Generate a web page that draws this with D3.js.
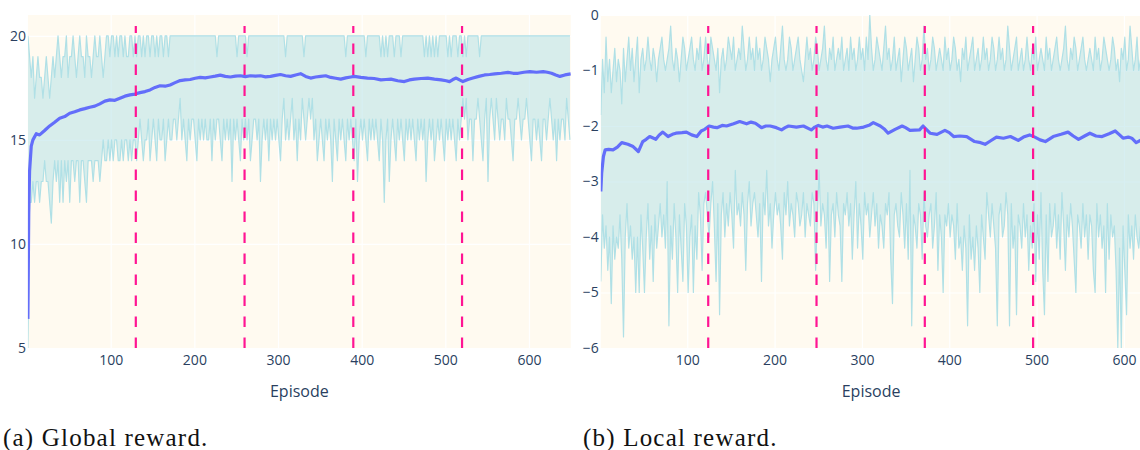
<!DOCTYPE html>
<html>
<head>
<meta charset="utf-8">
<script src="https://cdn.jsdelivr.net/npm/d3@7"></script>
<style>
body{margin:0;background:#fff}
svg text{font-family:"Open Sans",verdana,arial,sans-serif;fill:#2a3f5f}
svg text.caption{font-family:"Liberation Serif","DejaVu Serif",serif;fill:#111}
</style>
</head>
<body>
<div id="app"></div>
<script>
// band values are read every 2nd episode (1, 3, 5, ...)
var bandStep = 2;

var globalMax = [
20,19,18,19,17,18,19,18,
18,17,18,19,18,17,18,19,18,
19,20,19,18,19,19,20,18,19,19,20,19,18,19,20,19,19,18,20,19,19,18,19,20,19,19,20,19,18,19,20,
20,19,20,20,19,20,19,20,20,19,20,19,19,20,20,19,20,19,20,20,19,20,19,20,20,19,20,20,19,20,19,20,20,19,20,20,19,20,
20,20,20,20,20,20,20,20,20,20,20,20,20,20,20,20,20,20,20,20,
20,20,20,20,20,20,20,19,20,20,20,20,20,20,20,20,20,20,20,19,
20,20,20,20,20,19,20,20,20,20,20,20,20,20,20,20,20,20,20,20,
20,20,20,20,20,20,20,20,19,20,20,20,20,20,20,20,20,20,20,19,
20,20,20,20,20,20,20,20,20,20,20,20,20,20,20,20,20,20,20,20,
20,20,20,20,19,20,20,20,20,20,20,20,20,20,20,20,19,20,20,20,
20,20,20,20,20,19,20,19,20,19,20,20,20,19,20,20,20,19,20,20,
20,20,20,20,20,20,20,20,20,20,20,19,20,19,20,19,20,19,20,19,
20,20,20,20,20,19,20,19,20,20,20,19,20,20,19,20,19,20,20,20,
20,20,20,20,19,20,20,20,20,20,20,20,20,20,20,20,20,20,20,20,
20,20,20,20,20,20,20,20,20,20,20,20,20,20,20,20,20,20,20,20,
20,20,20,20,20,20,20,20,20,20,20,20,20,20,20,20,20,20,20
];

var globalMin = [
5,12,12,13,12,
13,13,12,13,13,
14,13,13,12,11,
13,14,13,14,12,14,
12,14,13,14,12,14,14,13,14,14,12,14,14,13,12,14,14,14,13,14,14,14,13,14,
15,14,14,15,14,15,14,15,15,14,14,15,14,15,15,14,15,14,15,
15,14,15,16,15,14,15,15,16,14,15,16,15,14,16,15,15,16,14,15,16,15,15,16,
16,15,16,17,15,16,15,14,16,15,16,16,15,14,16,15,16,15,16,15,
15,16,14,16,15,16,16,15,14,16,15,16,15,16,13,16,15,16,15,14,
16,15,16,15,16,14,15,16,16,15,16,13,15,16,15,16,14,16,15,16,
15,16,15,14,16,17,15,16,15,16,17,15,16,14,16,15,17,16,15,16,
17,16,17,15,16,14,15,16,15,14,16,15,16,15,13,16,15,14,16,15,
16,15,14,16,15,16,15,14,16,13,15,16,15,16,15,14,16,15,16,15,
16,15,14,16,15,12,15,16,13,15,16,15,14,16,15,16,15,14,16,15,
16,15,16,15,14,16,15,16,15,16,13,15,16,15,16,14,15,16,15,16,
15,14,16,15,16,15,16,15,14,16,15,16,17,16,17,15,16,16,14,16,
16,17,16,15,14,16,17,13,16,17,16,15,17,16,15,16,16,15,17,16,
16,15,14,16,16,17,16,15,16,16,17,16,15,14,16,16,15,16,15,14,
16,16,15,16,17,16,15,16,14,16,15,16,16,15,17,16,15
];

var globalMeanEpisodes = [1,2,3,5,7,11,15,21,27,33,39,45,51,57,63,69,75,81,87,93,99,105,111,117,123,129,135,141,147,153,159,165,171,177,183,189,195,201,207,213,219,225,231,237,243,249,255,261,267,273,279,285,291,297,303,309,315,321,327,333,339,345,351,357,363,369,375,381,387,391,399,407,415,423,429,435,443,451,457,463,471,479,487,495,501,505,509,513,517,521,527,533,540,547,553,559,567,575,581,587,594,601,609,617,622,627,632,637,643,650];
var globalMean = [6.4,11.5,13.5,14.7,15.0,15.3,15.24,15.45,15.67,15.85,16.04,16.12,16.28,16.35,16.44,16.5,16.57,16.62,16.73,16.86,16.92,16.9,17.0,17.1,17.16,17.2,17.27,17.32,17.4,17.52,17.6,17.58,17.64,17.75,17.85,17.88,17.9,17.96,18.0,17.98,18.02,18.06,18.11,18.05,18.02,18.06,18.08,18.04,18.08,18.06,18.08,18.03,18.05,18.1,18.14,18.08,18.05,18.12,18.18,18.05,17.97,18.02,18.05,18.08,18.0,17.96,17.92,17.98,18.02,18.05,18.0,17.97,17.95,17.88,17.9,17.92,17.84,17.8,17.88,17.92,17.95,17.97,17.92,17.88,17.84,17.8,17.9,17.97,17.88,17.8,17.9,17.97,18.05,18.12,18.14,18.17,18.2,18.24,18.2,18.2,18.25,18.28,18.25,18.28,18.25,18.2,18.12,18.05,18.12,18.17];

var localMax = [
-1.8,-0.8,-1.4,-0.4,-1.2,-0.8,-1.4,-1,-0.6,-1.2,-0.8,-1,-1.6,-0.6,-1.2,-0.8,-0.4,-1,-0.6,-1.2,
-0.8,-0.4,-1.4,-0.8,-0.6,-1,-0.8,-0.4,-0.8,-1,-0.6,-0.8,-1.2,-0.8,-0.6,-0.4,-0.8,-1,-0.8,-0.6,
-0.2,-0.8,-1,-0.6,-0.8,-1.2,-0.8,-0.4,-0.6,-1,-0.8,-0.6,-0.4,-0.8,-1,-0.6,-0.8,-0.4,-1,-0.8,
-0.4,-0.8,-1,-0.4,-0.6,-0.8,-1,-0.6,-1.4,-0.8,-0.6,-1,-0.8,-0.4,-0.6,-0.8,-0.4,-1,-0.8,-0.6,
-0.8,-0.2,-0.6,-1,-0.8,-0.4,-0.8,-0.6,-1,-0.4,-0.8,-0.6,-1,-0.8,-0.4,-0.6,-0.8,-1.2,-0.8,-0.6,
-0.4,-0.8,-1,-0.6,-0.2,-0.8,-1,-0.8,-0.4,-0.6,-1,-0.8,-0.6,-0.4,-0.8,-1,-1.2,-0.8,-0.4,-0.8,
-0.6,-1,-0.8,-0.4,-0.6,-1,-0.8,-0.6,-0.2,-0.8,-1,-0.6,-0.8,-0.4,-1,-0.8,-0.6,-0.8,-0.4,-1,
-0.8,-0.6,-1,-0.4,-0.8,-0.6,-1,-0.8,-0.4,-0.8,-0.6,-1,-0.4,-0.8,0,-0.6,-1,-0.8,-0.4,-0.6,
-0.8,-1,-0.6,-0.2,-0.8,-0.6,-1,-0.8,-0.4,-1,-0.8,-0.6,-1.2,-0.8,-0.4,-0.6,-1,-0.8,-0.6,-1.2,
-0.8,-0.4,-0.6,-1,-0.8,-0.2,-0.8,-0.6,-1,-0.8,-0.4,-0.6,-1,-0.8,-0.6,-0.8,-1,-0.4,-0.8,-0.6,
-1,-0.8,-0.4,-0.6,-1,-0.8,-1.2,-0.6,-0.8,-0.4,-1,-0.8,-0.6,-0.4,-1,-0.8,-0.6,-1,-0.8,-0.4,
-0.8,-0.6,-1,-0.8,-0.4,-0.6,-1,-0.8,-0.4,-0.8,-0.6,-1,-0.8,-0.2,-0.6,-1,-0.8,-0.6,-0.4,-1,
-0.8,-0.6,-1,-0.8,-0.4,-0.8,-1,-0.6,-0.8,-0.4,-1,-0.8,-0.6,-0.8,-1,-0.4,-0.8,-0.6,-1,-0.8,
-0.6,-0.4,-0.8,-1,-0.8,-0.6,-0.2,-0.8,-1,-0.6,-0.8,-0.4,-0.6,-1,-0.8,-0.6,-0.4,-0.8,-1,-0.8,
-0.6,-0.8,-1,-0.4,-0.8,-0.6,-1,-0.8,-0.4,-0.6,-0.8,-1,-0.8,-0.4,-0.6,-1,-0.8,-1.2,-0.6,-0.8,
-0.4,-1,-0.8,-0.2,-0.6,-1,-0.8,-0.4,-1,-0.8
];

var localMin = [
-4.8,-3.6,-4.2,-3.8,-4.6,-4,-5.2,-3.8,-4.4,-4,-4.2,-3.6,-4.4,-5.8,-4,-3.4,-4.2,-3.8,-4.4,-4,
-5,-4,-5,-3.6,-4.2,-5,-4,-3.4,-4.4,-3.8,-4.8,-3.6,-4.2,-3.8,-3.4,-4,-3.6,-4.2,-3,-5.6,
-3.8,-4.4,-3.4,-4,-5,-3.6,-4.2,-4.8,-3.4,-3.8,-5,-4,-3.6,-5,-3.8,-4.4,-3.2,-3.6,-4.6,-3.4,
-3.2,-3.6,-4,-3.4,-3,-3.8,-4.8,-3.4,-5.4,-3.6,-3.2,-4,-3.4,-3.8,-3.2,-3.6,-4.2,-2.8,-3.6,-3.4,
-3.8,-3.2,-3.6,-4.6,-3.4,-3,-3.8,-3.4,-3.2,-3.6,-4,-3.4,-4.8,-3.2,-3.6,-2.8,-3.8,-3.4,-4.2,-3.6,
-3.2,-3.6,-3.4,-3.8,-4.4,-3.2,-3.6,-3,-3.8,-3.4,-3.6,-4,-3.2,-3.4,-3.8,-3.6,-3.2,-4,-3.4,-3.6,
-3.8,-3.2,-3.4,-4.6,-3.6,-2.8,-3.8,-3.4,-3.6,-4.2,-3.2,-4.8,-3.6,-3.4,-4,-3.2,-3.6,-3.8,-4.8,-3.4,
-3.6,-3.2,-3.8,-3.4,-4.4,-3.6,-3,-4.2,-3.4,-3.8,-4.4,-3.2,-3.6,-3.4,-4,-3.6,-3.2,-3.8,-3.4,-4.2,
-3.6,-3.8,-4.2,-3.4,-3.6,-3.2,-4.4,-5.2,-3.6,-3.4,-3.8,-4,-3.2,-3.6,-4.2,-3.4,-4.4,-2.8,-5.6,-3.6,
-3.8,-4.2,-3.4,-3.6,-4.4,-3.2,-3.8,-4,-3.6,-3.4,-4.2,-3.8,-3.2,-4.6,-3.6,-4,-5,-3.6,-3.8,-3.4,
-4,-3.6,-3.8,-4.4,-3.4,-4.2,-4,-4.6,-3.8,-4.2,-5.6,-3.6,-4.4,-4,-4.6,-3.8,-4.2,-5,-3.6,-4,
-4.4,-3.2,-3.6,-4,-3.4,-3.8,-4.2,-5.6,-3.6,-3.4,-4,-3.8,-3.2,-3.6,-5.6,-3.4,-4.2,-3.8,-5.4,-3.6,
-3.8,-4.2,-3.4,-4,-3.6,-4.6,-3.8,-4.2,-3.4,-4.8,-3.6,-4.4,-3.2,-4.6,-5.4,-3.6,-4.8,-3.4,-4,-3.8,
-3.4,-4.2,-3.6,-4.4,-3.2,-3.8,-4.6,-3.6,-4,-3.4,-3.8,-4.4,-5,-3.6,-3.8,-4.2,-3.4,-4,-3.6,-4.4,
-3.6,-3.8,-4.6,-5,-3.4,-4,-3.6,-4.2,-3.8,-5,-3.4,-4.4,-3.6,-4,-3.8,-4.6,-6,-4.2,-6,-3.8,
-4.6,-5.4,-3.6,-4.2,-3.8,-4.4,-3.6,-4,-4.2,-3.8
];

var localMeanEpisodes = [1,2,4,6,10,15,20,25,32,38,44,49,53,57,64,68,72,78,83,87,94,99,105,111,116,120,125,130,134,140,145,153,160,168,173,178,185,190,195,202,208,212,216,225,233,242,246,250,255,260,267,275,284,290,294,302,309,313,321,326,330,338,346,350,355,366,370,378,386,395,400,405,412,420,429,436,441,447,454,462,470,479,485,492,498,504,510,519,528,536,542,548,555,561,568,575,583,590,595,599,605,609,614,620];
var localMean = [-3.18,-2.85,-2.55,-2.43,-2.42,-2.43,-2.38,-2.3,-2.33,-2.37,-2.46,-2.28,-2.24,-2.19,-2.24,-2.16,-2.11,-2.19,-2.15,-2.13,-2.12,-2.11,-2.16,-2.19,-2.09,-2.06,-2.0,-2.02,-2.03,-1.99,-2.0,-1.96,-1.92,-1.96,-1.93,-1.95,-2.03,-2.0,-2.0,-2.03,-2.07,-2.03,-2.0,-2.02,-2.0,-2.07,-2.02,-1.99,-2.02,-2.0,-2.04,-2.02,-2.0,-2.04,-2.04,-2.02,-1.98,-1.94,-2.0,-2.06,-2.13,-2.06,-2.0,-2.03,-2.08,-2.07,-2.0,-2.13,-2.15,-2.08,-2.12,-2.19,-2.18,-2.19,-2.28,-2.3,-2.33,-2.27,-2.2,-2.22,-2.19,-2.26,-2.2,-2.16,-2.2,-2.25,-2.28,-2.19,-2.15,-2.11,-2.18,-2.24,-2.18,-2.13,-2.18,-2.19,-2.14,-2.09,-2.16,-2.22,-2.2,-2.22,-2.3,-2.25];

var episodeTicks = [100,200,300,400,500,600];
var globalYTicks = [5,10,15,20];
var localYTicks = [-6,-5,-4,-3,-2,-1,0];
var globalSplits = [130,260,390,520];
var localSplits = [124,248,372,496];

var plotTop = 15, plotBottom = 348;

var svg = d3.select('#app').append('svg')
            .attr('width', 1140)
            .attr('height', 450);

function drawPanel(id, maxVals, minVals, meanEp, meanVals, xDomain, yDomain, yTicks, splits, left, right, caption, captionX){
  var x = d3.scaleLinear().domain(xDomain).range([left, right]);
  var y = d3.scaleLinear().domain(yDomain).range([plotBottom, plotTop]);
  var ep = function(d, i){ return x(1 + i*bandStep); };

  var g = svg.append('g');

  g.append('clipPath').attr('id', 'clip-' + id)
   .append('rect')
   .attr('x', left).attr('y', plotTop)
   .attr('width', right - left).attr('height', plotBottom - plotTop);

  g.append('rect')
   .attr('x', left).attr('y', plotTop)
   .attr('width', right - left).attr('height', plotBottom - plotTop)
   .attr('fill', '#fffaf0');

  // grid
  g.append('g')
   .attr('transform', 'translate(0,' + plotBottom + ')')
   .call(d3.axisBottom(x).tickValues(episodeTicks).tickSize(-(plotBottom - plotTop)).tickFormat(''))
   .call(function(a){ a.select('.domain').remove(); a.selectAll('line').attr('stroke', '#fff').attr('stroke-width', 1.2); });
  g.append('g')
   .attr('transform', 'translate(' + left + ',0)')
   .call(d3.axisLeft(y).tickValues(yTicks).tickSize(-(right - left)).tickFormat(''))
   .call(function(a){ a.select('.domain').remove(); a.selectAll('line').attr('stroke', '#fff').attr('stroke-width', 1.2); });

  var plot = g.append('g').attr('clip-path', 'url(#clip-' + id + ')');

  var band = d3.area()
               .x(ep)
               .y0(function(d, i){ return y(minVals[i]); })
               .y1(function(d){ return y(d); });
  plot.append('path')
      .datum(maxVals)
      .attr('d', band)
      .attr('fill', 'rgba(176,224,230,0.5)');

  var edge = d3.line().x(ep).y(function(d){ return y(d); });
  [minVals, maxVals].forEach(function(vals){
    plot.append('path')
        .datum(vals)
        .attr('d', edge)
        .attr('fill', 'none')
        .attr('stroke', '#b0e0e6')
        .attr('stroke-width', 1.2)
        .attr('stroke-linejoin', 'round');
  });

  plot.append('path')
      .datum(meanVals)
      .attr('d', d3.line().x(function(d, i){ return x(meanEp[i]); }).y(function(d){ return y(d); }))
      .attr('fill', 'none')
      .attr('stroke', '#636efa')
      .attr('stroke-width', 3.2)
      .attr('stroke-linejoin', 'round');

  // split markers stop a little under the top of the plot, as in the source
  plot.selectAll('.split')
      .data(splits)
      .enter().append('line')
      .attr('x1', function(d){ return x(d); })
      .attr('x2', function(d){ return x(d); })
      .attr('y1', plotBottom)
      .attr('y2', plotTop + 11)
      .attr('stroke', '#ff1493')
      .attr('stroke-width', 2.2)
      .attr('stroke-dasharray', '10.5,10.5');

  // tick labels
  g.append('g')
   .attr('transform', 'translate(0,' + plotBottom + ')')
   .call(d3.axisBottom(x).tickValues(episodeTicks).tickSize(0).tickPadding(7))
   .call(function(a){ a.select('.domain').remove(); a.selectAll('text').attr('font-size', 14).attr('font-family', null); });
  g.append('g')
   .attr('transform', 'translate(' + left + ',0)')
   .call(d3.axisLeft(y).tickValues(yTicks).tickSize(0).tickPadding(2).tickFormat(d3.format('d')))
   .call(function(a){ a.select('.domain').remove(); a.selectAll('text').attr('font-size', 14).attr('font-family', null); });

  g.append('text')
   .attr('x', (left + right)/2)
   .attr('y', 397)
   .attr('text-anchor', 'middle')
   .attr('font-size', 16)
   .text('Episode');

  g.append('text')
   .attr('class', 'caption')
   .attr('x', captionX)
   .attr('y', 446)
   .attr('font-size', 25)
   .attr('letter-spacing', 1.2)
   .text(caption);
}

drawPanel('global', globalMax, globalMin, globalMeanEpisodes, globalMean, [1, 650], [5, 21], globalYTicks, globalSplits, 27.9, 570.8, '(a) Global reward.', 3);
drawPanel('local', localMax, localMin, localMeanEpisodes, localMean, [1, 620], [-6, 0], localYTicks, localSplits, 600.8, 1141.4, '(b) Local reward.', 583);
</script>
</body>
</html>
